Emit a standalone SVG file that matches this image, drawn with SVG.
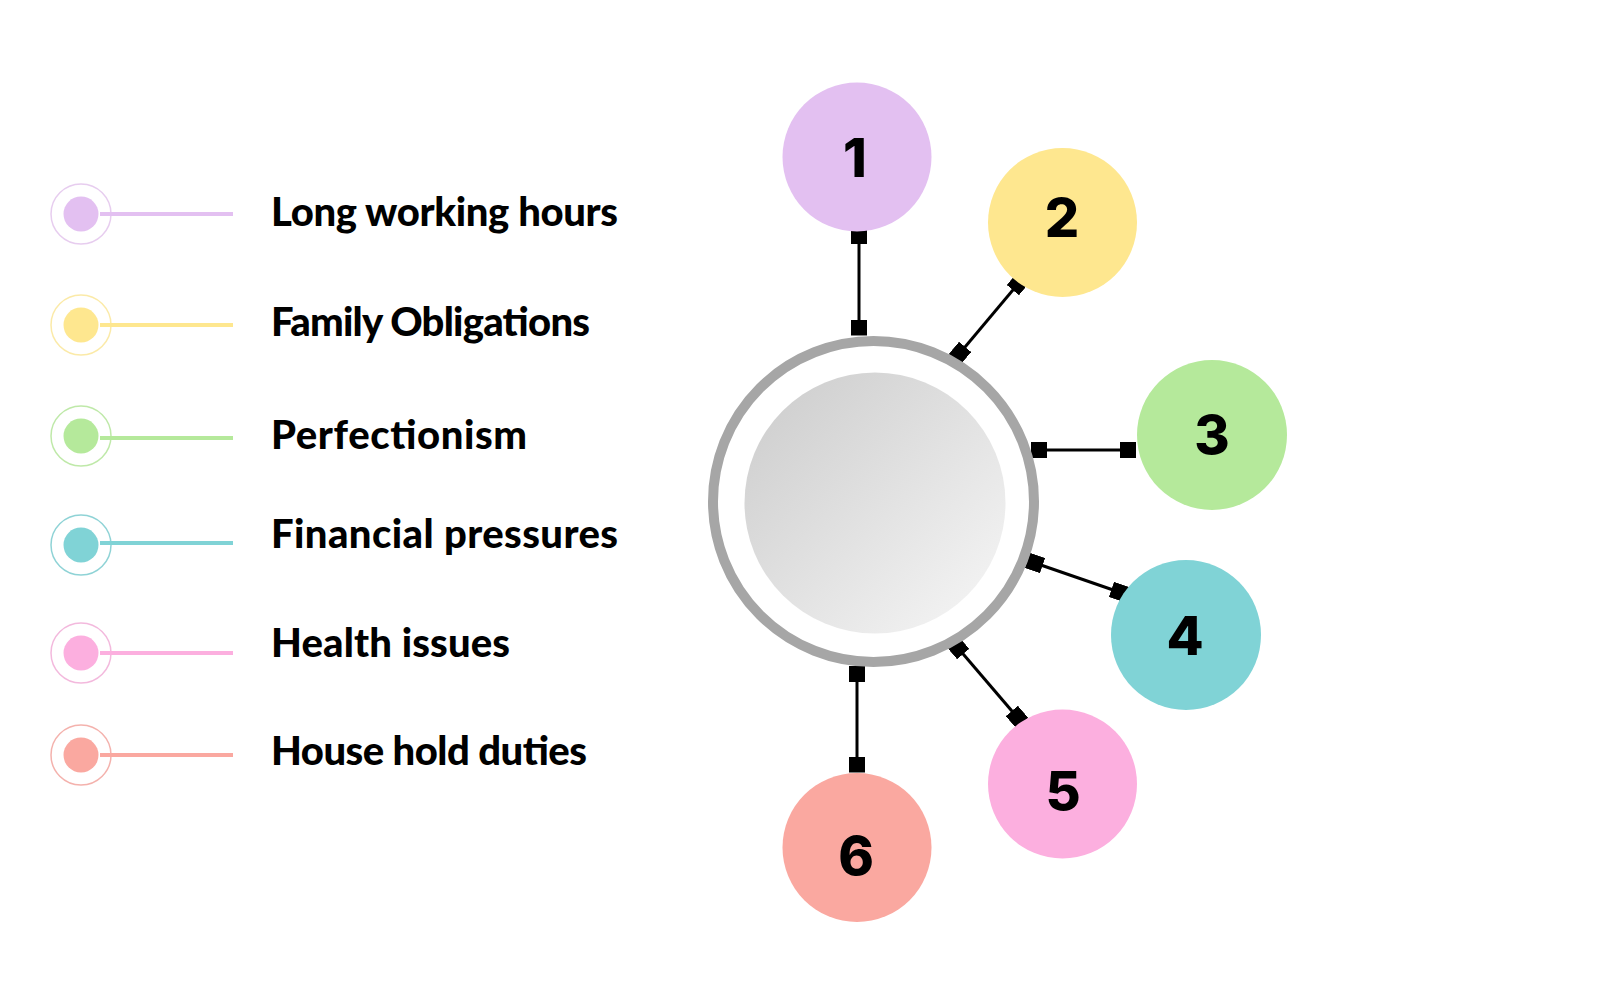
<svg xmlns="http://www.w3.org/2000/svg" width="1600" height="1000" viewBox="0 0 1600 1000">
<defs>
<linearGradient id="hubGrad" x1="0" y1="0" x2="1" y2="1">
<stop offset="0" stop-color="#cbcbcb"/>
<stop offset="1" stop-color="#f7f7f7"/>
</linearGradient>
<marker id="sq" viewBox="0 0 10 10" refX="5" refY="5" markerUnits="userSpaceOnUse" markerWidth="16" markerHeight="16" orient="auto">
<rect x="0" y="0" width="10" height="10" fill="#000"/>
</marker>
</defs>
<style>
.num{font-family:Inter,"Liberation Sans",Arial,sans-serif;font-weight:800;font-size:54px;fill:#000;text-anchor:middle}
.lbl{font-family:Lato,"Noto Sans","Liberation Sans",sans-serif;font-weight:900;font-size:40px;fill:#000}
.conn{stroke:#000;stroke-width:3;fill:none;marker-start:url(#sq);marker-end:url(#sq)}
.ring{fill:#fff;stroke-width:1.5}
.lline{stroke-width:4;fill:none}
</style>
<rect width="1600" height="1000" fill="#fff"/>

<g id="legend-1">
<circle class="ring" cx="81" cy="214" r="30" stroke="#e7cdef"/>
<line class="lline" x1="100" y1="214" x2="233" y2="214" stroke="#e3c0f1"/>
<circle cx="81" cy="214" r="17.5" fill="#e3c0f1"/>
<text class="lbl" x="271" y="226" textLength="347">Long working hours</text>
</g>
<g id="legend-2">
<circle class="ring" cx="81" cy="325" r="30" stroke="#fbeaa8"/>
<line class="lline" x1="100" y1="325" x2="233" y2="325" stroke="#fee78f"/>
<circle cx="81" cy="325" r="17.5" fill="#fee78f"/>
<text class="lbl" x="271" y="336" textLength="319">Family Obligations</text>
</g>
<g id="legend-3">
<circle class="ring" cx="81" cy="436" r="30" stroke="#bfe9a9"/>
<line class="lline" x1="100" y1="438" x2="233" y2="438" stroke="#b5e99b"/>
<circle cx="81" cy="436" r="17.5" fill="#b5e99b"/>
<text class="lbl" x="271" y="449" textLength="256">Perfectionism</text>
</g>
<g id="legend-4">
<circle class="ring" cx="81" cy="545" r="30" stroke="#8fd3d6"/>
<line class="lline" x1="100" y1="543" x2="233" y2="543" stroke="#80d3d6"/>
<circle cx="81" cy="545" r="17.5" fill="#80d3d6"/>
<text class="lbl" x="271" y="548" textLength="347">Financial pressures</text>
</g>
<g id="legend-5">
<circle class="ring" cx="81" cy="653" r="30" stroke="#f3b9dd"/>
<line class="lline" x1="100" y1="653" x2="233" y2="653" stroke="#fcafdf"/>
<circle cx="81" cy="653" r="17.5" fill="#fcafdf"/>
<text class="lbl" x="271" y="657" textLength="239">Health issues</text>
</g>
<g id="legend-6">
<circle class="ring" cx="81" cy="755" r="30" stroke="#f4b2ad"/>
<line class="lline" x1="100" y1="755" x2="233" y2="755" stroke="#faa8a0"/>
<circle cx="81" cy="755" r="17.5" fill="#faa8a0"/>
<text class="lbl" x="271" y="765" textLength="316">House hold duties</text>
</g>

<g id="connectors">
<line class="conn" x1="859" y1="236" x2="859" y2="327.5"/>
<line class="conn" x1="960" y1="353" x2="1018" y2="284"/>
<line class="conn" x1="1039" y1="450" x2="1128" y2="450"/>
<line class="conn" x1="1035" y1="563" x2="1119" y2="592"/>
<line class="conn" x1="958" y1="648" x2="1017" y2="717"/>
<line class="conn" x1="857" y1="674" x2="857" y2="764.5"/>
</g>

<g id="hub">
<circle cx="873.5" cy="501.5" r="160.5" fill="#fff" stroke="#a6a6a6" stroke-width="10"/>
<circle cx="875" cy="503" r="130.5" fill="url(#hubGrad)"/>
</g>

<g id="node-1">
<circle cx="857" cy="157" r="74.5" fill="#e3c0f1"/>
<text class="num" x="855" y="177">1</text>
</g>
<g id="node-2">
<circle cx="1062.5" cy="222.5" r="74.5" fill="#fee78f"/>
<text class="num" x="1062" y="237">2</text>
</g>
<g id="node-3">
<circle cx="1212" cy="435" r="75" fill="#b5e99b"/>
<text class="num" x="1212" y="454">3</text>
</g>
<g id="node-4">
<circle cx="1186" cy="635" r="75" fill="#80d3d6"/>
<text class="num" x="1185" y="655">4</text>
</g>
<g id="node-5">
<circle cx="1062.5" cy="784" r="74.5" fill="#fcafdf"/>
<text class="num" x="1063" y="810">5</text>
</g>
<g id="node-6">
<circle cx="857" cy="847.5" r="74.5" fill="#faa8a0"/>
<text class="num" x="856" y="875">6</text>
</g>
</svg>
